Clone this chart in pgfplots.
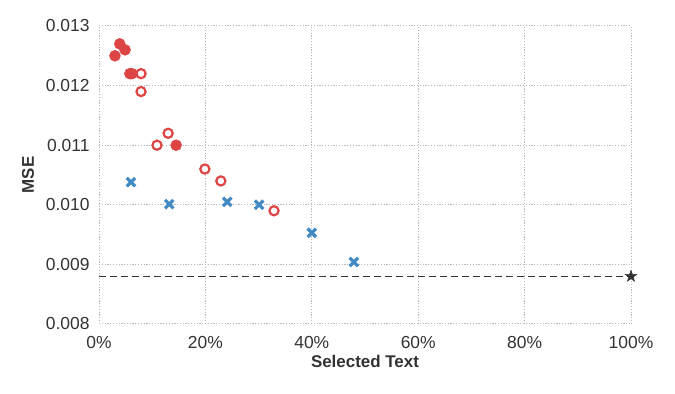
\documentclass[border=0pt]{standalone}
\usepackage{pgfplots}
\pgfplotsset{compat=1.18}
\usepackage{fontspec}
\setmainfont{Liberation Sans}
\definecolor{cred}{RGB}{221,68,68}
\definecolor{cblue}{RGB}{66,138,196}
\definecolor{cdark}{RGB}{51,51,51}
\definecolor{cgrid}{RGB}{185,185,185}
% filled five-pointed star
\pgfdeclareplotmark{fstar}{%
  \pgfpathmoveto{\pgfqpointpolar{90}{\pgfplotmarksize}}%
  \pgfpathlineto{\pgfqpointpolar{126}{0.4\pgfplotmarksize}}%
  \pgfpathlineto{\pgfqpointpolar{162}{\pgfplotmarksize}}%
  \pgfpathlineto{\pgfqpointpolar{198}{0.4\pgfplotmarksize}}%
  \pgfpathlineto{\pgfqpointpolar{234}{\pgfplotmarksize}}%
  \pgfpathlineto{\pgfqpointpolar{270}{0.4\pgfplotmarksize}}%
  \pgfpathlineto{\pgfqpointpolar{306}{\pgfplotmarksize}}%
  \pgfpathlineto{\pgfqpointpolar{342}{0.4\pgfplotmarksize}}%
  \pgfpathlineto{\pgfqpointpolar{18}{\pgfplotmarksize}}%
  \pgfpathlineto{\pgfqpointpolar{54}{0.4\pgfplotmarksize}}%
  \pgfpathclose
  \pgfusepathqfillstroke}
\begin{document}
\begin{tikzpicture}
\begin{axis}[
    scale only axis, width=532bp, height=298bp,
    xmin=0, xmax=100, ymin=0.008, ymax=0.013,
    xtick={0,20,...,100}, ytick={0.008,0.009,...,0.0131},
    xticklabel={\pgfmathprintnumber{\tick}\%},
    scaled y ticks=false,
    /pgf/number format/assume math mode=true,
    tick label style={font=\fontsize{17.5}{20}\selectfont, text=cdark},
    x tick label style={yshift=-9bp},
    y tick label style={xshift=-6bp, /pgf/number format/.cd, fixed, fixed zerofill, precision=3},
    label style={font=\bfseries\fontsize{17}{20}\selectfont, text=cdark},
    xlabel={Selected Text}, ylabel={MSE},
    xlabel style={yshift=0bp}, ylabel style={yshift=5bp},
    axis line style={draw=none},
    major tick length=0pt,
    xtick pos=bottom, ytick pos=left,
    grid=major,
    major grid style={cgrid, dash pattern=on 1.2pt off 1.6pt, line width=1pt},
    clip=false,
]
\addplot[cdark, line width=1.5pt, dash pattern=on 7bp off 4bp] coordinates {(0,0.0088) (100,0.0088)};
% filled circles
\addplot[only marks, mark=*, mark size=5.5pt, draw=cred, fill=cred, line width=0.5pt] coordinates {
(3.0,0.0125) (3.9,0.0127) (4.9,0.0126) (5.8,0.0122) (6.2,0.0122) (14.5,0.0110)};
% open circles
\addplot[only marks, mark=*, mark size=4.6pt, draw=cred, fill=white, line width=2.2pt] coordinates {
(7.9,0.0122) (7.9,0.0119) (13.0,0.0112) (10.9,0.0110) (19.9,0.0106) (22.9,0.0104) (32.9,0.0099)};
% crosses
\addplot[only marks, mark=x, mark size=6pt, draw=cblue, line width=3.2pt] coordinates {
(6.0,0.01038) (13.2,0.01001) (24.1,0.01005) (30.1,0.0100) (40.0,0.00953) (47.9,0.00904)};
% star
\addplot[only marks, mark=fstar, mark size=6pt, draw=cdark, fill=cdark, line width=0.5pt] coordinates {(100,0.0088)};
\end{axis}
\path ([xshift=-99bp,yshift=-70bp]current axis.south west) rectangle ([xshift=44bp,yshift=26bp]current axis.north east);
\end{tikzpicture}
\end{document}
